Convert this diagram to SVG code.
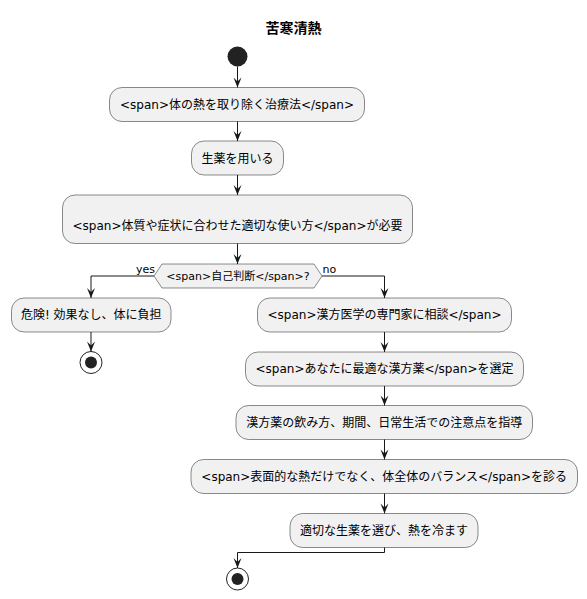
<svg xmlns="http://www.w3.org/2000/svg" width="587" height="599" viewBox="0 0 587 599">
<style>
.box{fill:#F1F1F1;stroke:#181818;stroke-width:0.5}
.t{font-family:"DejaVu Sans","Noto Sans CJK JP",sans-serif;font-size:12px;fill:#000;text-anchor:middle}
.s{font-family:"DejaVu Sans","Noto Sans CJK JP",sans-serif;font-size:11px;fill:#000}
.title{font-family:"DejaVu Sans","Noto Sans CJK JP",sans-serif;font-size:14px;font-weight:bold;fill:#000;text-anchor:middle}
.ln{fill:none;stroke:#181818;stroke-width:1}
</style>
<defs>
<marker id="ah" viewBox="-1 -5 12 10" refX="10" refY="0" markerWidth="12" markerHeight="10" markerUnits="userSpaceOnUse" orient="auto">
<path d="M0,-4 L10,0 L0,4 L4,0 Z" fill="#181818"/>
</marker>
</defs>
<text class="title" x="293.5" y="33">苦寒清熱</text>
<g id="start"><circle cx="237.5" cy="56.5" r="10" fill="#222222"/></g>
<g id="n1"><rect class="box" x="109.5" y="87.5" width="255" height="34" rx="12.5"/><text class="t" x="237" y="109">&lt;span&gt;体の熱を取り除く治療法&lt;/span&gt;</text></g>
<g id="n2"><rect class="box" x="191.5" y="141" width="92" height="34" rx="12.5"/><text class="t" x="237.5" y="162.5">生薬を用いる</text></g>
<g id="n3"><rect class="box" x="62.5" y="195" width="350" height="48.5" rx="12.5"/><text class="t" x="237.5" y="230">&lt;span&gt;体質や症状に合わせた適切な使い方&lt;/span&gt;が必要</text></g>
<g id="d1"><polygon class="box" points="154,276 162,264 314,264 322,276 314,288 162,288"/><text class="s" x="238" y="280" text-anchor="middle">&lt;span&gt;自己判断&lt;/span&gt;?</text></g>
<g id="n4"><rect class="box" x="11.5" y="298" width="159.5" height="34" rx="12.5"/><text class="t" x="91.3" y="319">危険! 効果なし、体に負担</text></g>
<g id="end1"><circle cx="91" cy="362.5" r="11" fill="none" stroke="#222222" stroke-width="1"/><circle cx="91" cy="362.5" r="6" fill="#222222"/></g>
<g id="n5"><rect class="box" x="257.5" y="298" width="254" height="34" rx="12.5"/><text class="t" x="384.5" y="319">&lt;span&gt;漢方医学の専門家に相談&lt;/span&gt;</text></g>
<g id="n6"><rect class="box" x="245.5" y="352" width="278" height="34" rx="12.5"/><text class="t" x="384.5" y="373">&lt;span&gt;あなたに最適な漢方薬&lt;/span&gt;を選定</text></g>
<g id="n7"><rect class="box" x="236" y="405.5" width="296.5" height="34" rx="12.5"/><text class="t" x="384.2" y="426.5">漢方薬の飲み方、期間、日常生活での注意点を指導</text></g>
<g id="n8"><rect class="box" x="191" y="459.5" width="386.5" height="34" rx="12.5"/><text class="t" x="384.2" y="480.5">&lt;span&gt;表面的な熱だけでなく、体全体のバランス&lt;/span&gt;を診る</text></g>
<g id="n9"><rect class="box" x="290" y="513.5" width="188" height="34" rx="12.5"/><text class="t" x="384" y="534.5">適切な生薬を選び、熱を冷ます</text></g>
<g id="end2"><circle cx="237.5" cy="579" r="11" fill="none" stroke="#222222" stroke-width="1"/><circle cx="237.5" cy="579" r="6" fill="#222222"/></g>
<g id="connectors">
<path class="ln" d="M237.5,66.5 L237.5,87.5" marker-end="url(#ah)"/>
<path class="ln" d="M237.5,121.5 L237.5,141" marker-end="url(#ah)"/>
<path class="ln" d="M237.5,175 L237.5,195" marker-end="url(#ah)"/>
<path class="ln" d="M237.5,243.5 L237.5,264" marker-end="url(#ah)"/>
<path class="ln" d="M154,276 L91,276 L91,298" marker-end="url(#ah)"/>
<text class="s" x="155" y="272.5" text-anchor="end">yes</text>
<path class="ln" d="M91,332 L91,351.5" marker-end="url(#ah)"/>
<path class="ln" d="M322,276 L384.5,276 L384.5,298" marker-end="url(#ah)"/>
<text class="s" x="322.5" y="272.5">no</text>
<path class="ln" d="M384.5,332 L384.5,352" marker-end="url(#ah)"/>
<path class="ln" d="M384.5,386 L384.5,405.5" marker-end="url(#ah)"/>
<path class="ln" d="M384.5,439.5 L384.5,459.5" marker-end="url(#ah)"/>
<path class="ln" d="M384.5,493.5 L384.5,513.5" marker-end="url(#ah)"/>
<path class="ln" d="M384.5,547.5 L384.5,552.5 L237.5,552.5 L237.5,568" marker-end="url(#ah)"/>
</g>
</svg>
